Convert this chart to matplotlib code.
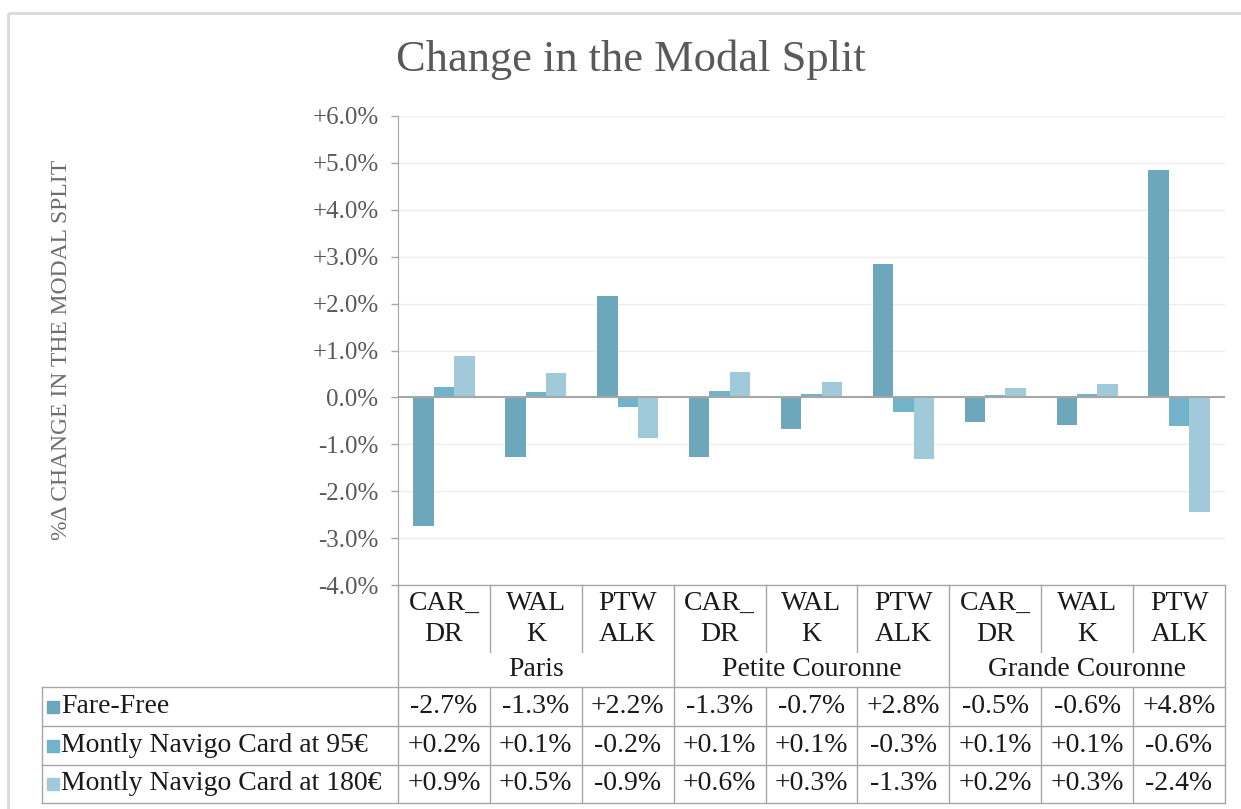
import numpy as np
import matplotlib.pyplot as plt
from matplotlib.ticker import FuncFormatter, MultipleLocator
from matplotlib.patches import Rectangle

plt.rcParams['font.family'] = ['Liberation Serif', 'DejaVu Serif']

regions = ['Paris', 'Petite Couronne', 'Grande Couronne']
modes = ['CAR_\nDR', 'WAL\nK', 'PTW\nALK']
series = ['Fare-Free', 'Montly Navigo Card at 95€', 'Montly Navigo Card at 180€']

# values in % (Paris x3, Petite Couronne x3, Grande Couronne x3)
fare_free = [-2.74, -1.28, 2.17, -1.28, -0.68, 2.84, -0.52, -0.59, 4.84]
navigo_95 = [0.22, 0.11, -0.20, 0.13, 0.08, -0.32, 0.06, 0.07, -0.61]
navigo_180 = [0.88, 0.51, -0.86, 0.55, 0.32, -1.32, 0.21, 0.29, -2.44]

colors = ['#6DA7BB', '#72B3C9', '#A0CADA']
grey = '#595959'
line_grey = '#A6A6A6'

W, H = 1241, 809
fig = plt.figure(figsize=(W / 100, H / 100), dpi=100)

# plot area (pixels)
L, R, T, B = 398, 1225, 116, 585
ax = fig.add_axes([L / W, 1 - B / H, (R - L) / W, (B - T) / H])

x = np.arange(len(fare_free))
bw = 0.222
for k, vals in enumerate([fare_free, navigo_95, navigo_180]):
    ax.bar(x + (k - 1) * bw, vals, width=bw, color=colors[k], zorder=3)

ax.set_xlim(-0.5, len(x) - 0.5)
ax.set_ylim(-4, 6)
ax.yaxis.set_major_locator(MultipleLocator(1))
ax.yaxis.set_major_formatter(FuncFormatter(
    lambda v, p: '0.0%' if abs(v) < 1e-9 else f'{v:+.1f}%'))
ax.tick_params(axis='y', labelsize=18, labelcolor=grey, color=line_grey,
               length=5, width=1, pad=9)
ax.set_xticks([])
ax.grid(axis='y', color='#EDEDED', lw=1, zorder=0)
ax.axhline(0, color=line_grey, lw=1.5, zorder=4)
for s in ['top', 'right', 'bottom']:
    ax.spines[s].set_visible(False)
ax.spines['left'].set_color(line_grey)

fig.text(631 / W, 1 - 60 / H, 'Change in the Modal Split', fontsize=32,
         color=grey, ha='center', va='center')
fig.text(62 / W, 1 - 350 / H, '%Δ CHANGE IN THE MODAL SPLIT', fontsize=17,
         color='#6E6E6E', rotation=90, ha='center', va='center')

# table drawn in pixel coordinates
tab = fig.add_axes([0, 0, 1, 1], facecolor='none')
tab.set_xlim(0, W)
tab.set_ylim(H, 0)
tab.axis('off')

edges = np.linspace(L, R, len(x) + 1)
centers = (edges[:-1] + edges[1:]) / 2
TL = 42
cat_bot = 655
rows = [687, 726, 765, 803]
kw = dict(color=line_grey, lw=1)

tab.plot([L, R], [B, B], **kw)
for i, e in enumerate(edges):
    if i in (0, 3, 6, 9):
        tab.plot([e, e], [B, rows[-1]], **kw)
    else:
        tab.plot([e, e], [B, cat_bot - 3], **kw)
        tab.plot([e, e], [rows[0], rows[-1]], **kw)
for r in rows:
    tab.plot([TL, R], [r, r], **kw)
tab.plot([TL, TL], [rows[0], rows[-1]], **kw)

txt = '#1A1A1A'
for i, c in enumerate(centers):
    tab.text(c, 619, modes[i % 3], fontsize=20, color=txt, ha='center',
             va='center', linespacing=1.3)
for g, name in enumerate(regions):
    tab.text((edges[3 * g] + edges[3 * g + 3]) / 2, 670, name, fontsize=20,
             color=txt, ha='center', va='center')

for k, vals in enumerate([fare_free, navigo_95, navigo_180]):
    yc = (rows[k] + rows[k + 1]) / 2
    tab.add_patch(Rectangle((47, yc - 6), 12, 12, color=colors[k]))
    tab.text(61, yc, series[k], fontsize=20, color=txt, ha='left', va='center')
    for i, v in enumerate(vals):
        tab.text(centers[i], yc, f'{v:+.1f}%', fontsize=20, color=txt,
                 ha='center', va='center')

# outer chart frame
tab.add_patch(Rectangle((8, 13), W, H, fill=False, ec='#D9D9D9', lw=2))

fig.savefig('out.png', dpi=100)
